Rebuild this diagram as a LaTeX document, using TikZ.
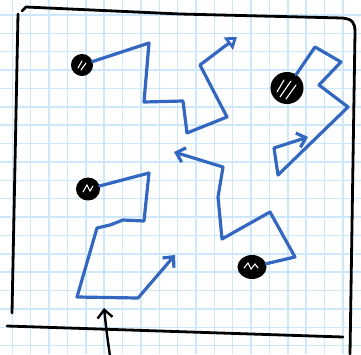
\documentclass[tikz,border=0pt]{standalone}
\usetikzlibrary{arrows.meta,shapes.geometric,calc}
\definecolor{gridblue}{RGB}{204,232,250}
\definecolor{penblue}{RGB}{52,104,192}

\begin{document}
\begin{tikzpicture}[x=1pt,y=-1pt,
  gridline/.style={gridblue,line width=1.5pt},
  frame/.style={black,line width=2.8pt,line cap=round,line join=round},
  route/.style={penblue,line width=3.2pt,line cap=round,line join=round},
  barb/.style={-{Straight Barb[length=8pt,width=15pt]}},
  blob/.style={ellipse,fill=black,draw=black,line width=2pt,inner sep=0pt},
  scrib/.style={white,line width=1.1pt,line cap=round}]
\useasboundingbox (0,0) rectangle (361,354);
\fill[white] (0,0) rectangle (361,354);
% squared paper
\foreach \i in {0,...,18}
  {\draw[gridline] ({12.3+18.37*\i},0) -- ++(0,354);}
\foreach \j in {0,...,18}
  {\draw[gridline] (0,{15+18.37*\j}) -- ++(361,0);}
% hand-drawn frame
\draw[frame] (22,11) -- (26,7) -- (180,14) -- (342,18)
  .. controls (352,19) and (355,22) .. (355,32) -- (350,354);
\draw[frame] (18,14) -- (12,313);
\draw[frame] (7,326) -- (343,337);
% scribbled holes
\node[blob,minimum width=20pt,minimum height=20pt] (b1) at (82,65) {};
\node[blob,minimum width=31pt,minimum height=30pt] (b2) at (287,88) {};
\node[blob,minimum width=22pt,minimum height=21pt] (b3) at (88,189) {};
\node[blob,minimum width=27pt,minimum height=22pt] (b4) at (252,267) {};
\draw[scrib] ($(b1)+(-4,3)$) -- ($(b1)+(0,-4)$);
\draw[scrib] ($(b1)+(-1,5)$) -- ($(b1)+(4,-2)$);
\foreach \dx/\dy/\ex/\ey in {-10/4/-3/-8, -7/9/4/-7, -1/11/9/-3}
  {\draw[scrib] ($(b2)+(\dx,\dy)$) -- ($(b2)+(\ex,\ey)$);}
\draw[scrib] ($(b3)+(-5,3)$) -- ($(b3)+(-1,-4)$) -- ($(b3)+(2,2)$) -- ($(b3)+(5,-3)$);
\draw[scrib] ($(b4)+(-8,1)$) -- ($(b4)+(-4,-4)$) -- ($(b4)+(-1,2)$)
  -- ($(b4)+(3,-3)$) -- ($(b4)+(6,1)$);
% loose ends of the routes
\coordinate (a1) at (237,37);
\coordinate (a2) at (174,152);
\coordinate (a3) at (308,137);
\coordinate (a4) at (175,255);
\coordinate (start) at (110,356);
\coordinate (entry) at (104,308);
% routes
\draw[route,-{Triangle[open,length=11pt,width=15pt]}] (b1) -- (149,43) -- (144,102)
  -- (183,101) -- (187,133) -- (227,117) -- (200,65) -- (a1);
\draw[route,barb] (b4) -- (295,257) -- (270,212) -- (222,239)
  -- (218,197) -- (223,167) -- (a2);
\draw[route,barb] (b2) -- (315,47) -- (341,62) -- (319,85)
  -- (348,107) -- (278,175) -- (274,148) -- (a3);
\draw[route,barb] (b3) -- (149,173) -- (144,221) -- (123,220) -- (110,225)
  -- (97,228) -- (77,297) -- (138,298) -- (a4);
% way in
\draw[frame,line width=2.4pt,barb] (start) .. controls (107,335) .. (entry);
\end{tikzpicture}
\end{document}
